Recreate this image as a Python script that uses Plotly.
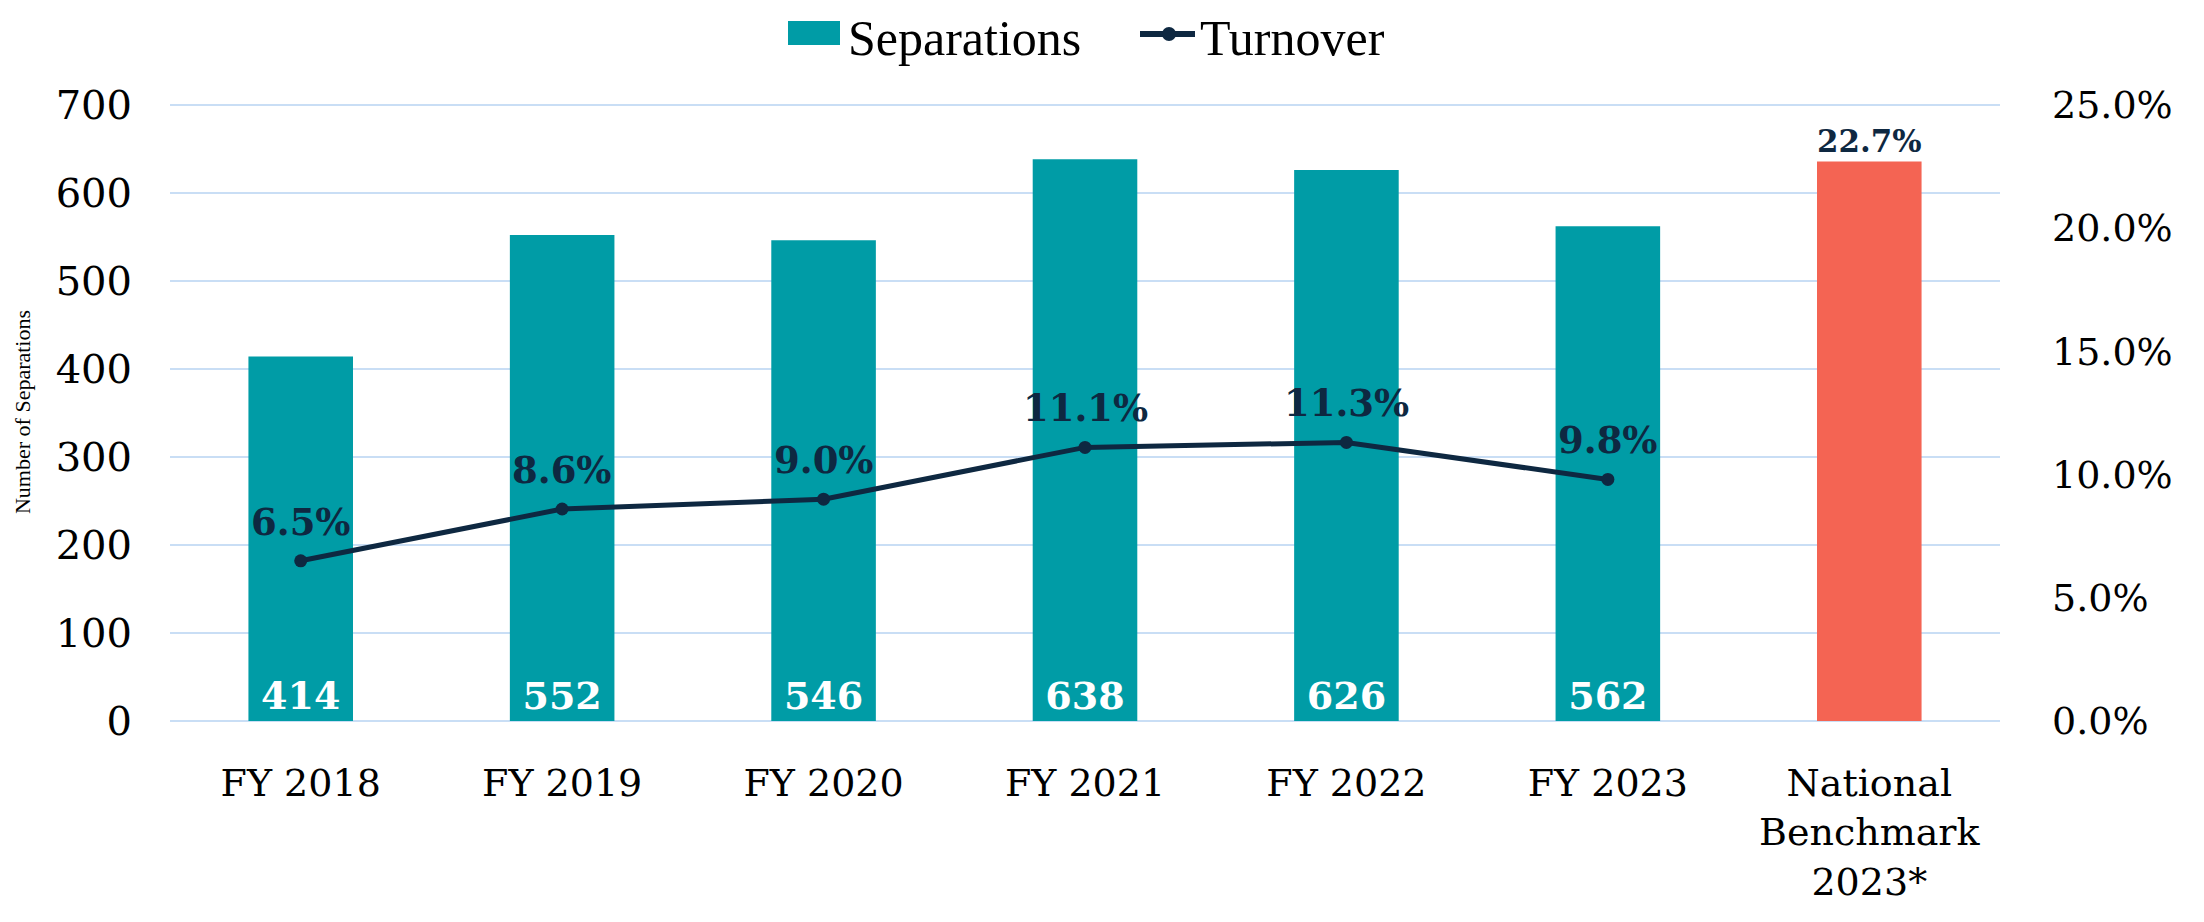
import plotly.graph_objects as go

categories = ["FY 2018", "FY 2019", "FY 2020", "FY 2021", "FY 2022", "FY 2023", "National<br>Benchmark<br>2023*"]
fy_categories = categories[:6]
separations = [414, 552, 546, 638, 626, 562]
turnover = [6.5, 8.6, 9.0, 11.1, 11.3, 9.8]
benchmark_category = [categories[6]]
benchmark_turnover = [22.7]
left_ticks = [0, 100, 200, 300, 400, 500, 600, 700]
right_ticks = [0, 5, 10, 15, 20, 25]
legend_names = ["Separations", "Turnover"]

TEAL = "#009CA6"
CORAL = "#F46453"
NAVY = "#0E2841"
GRID = "#C9DEF5"
FONT = "DejaVu Serif"
LEGEND_FONT = "Liberation Serif"

W, H = 2204, 922
ML, MR, MT, MB = 162, 212, 95, 209   # page body has an 8px margin
PW, PH = W - ML - MR, H - MT - MB
LEFT_MAX = 702
RIGHT_MAX = 25 * LEFT_MAX / 700


def px(xpage):
    return (xpage - 8 - ML) / PW


def py(ypage):
    return (H - MB - (ypage - 8)) / PH


fig = go.Figure()
fig.add_trace(go.Bar(
    x=fy_categories, y=separations, name=legend_names[0], showlegend=False,
    marker=dict(color=TEAL, line=dict(width=0)),
    text=[str(v) for v in separations], textposition="inside", insidetextanchor="start",
    textfont=dict(family=FONT, size=38, color="white", weight="bold"),
    textangle=0, cliponaxis=False,
))
fig.add_trace(go.Bar(
    x=benchmark_category, y=benchmark_turnover, yaxis="y2", showlegend=False,
    marker=dict(color=CORAL, line=dict(width=0)),
    text=[f"{v:.1f}%" for v in benchmark_turnover], textposition="outside",
    textfont=dict(family=FONT, size=36, color=NAVY, weight="bold"),
    textangle=0, cliponaxis=False,
))
fig.add_trace(go.Scatter(
    x=fy_categories, y=turnover, yaxis="y2", name=legend_names[1], showlegend=False,
    mode="lines+markers",
    line=dict(color=NAVY, width=5), marker=dict(color=NAVY, size=13),
    cliponaxis=False,
))

annotations = []
for c, v in zip(fy_categories, turnover):
    annotations.append(dict(
        x=c, y=v, xref="x", yref="y2", text=f"<b>{v:.1f}%</b>", showarrow=False,
        xanchor="center", yanchor="bottom", yshift=15,
        font=dict(family=FONT, size=37, color=NAVY),
    ))

# legend (drawn to match the reference's large swatches)
shapes = [
    dict(type="rect", xref="paper", yref="paper", x0=px(788), x1=px(840), y0=py(45), y1=py(21),
         fillcolor=TEAL, line=dict(width=0)),
    dict(type="line", xref="paper", yref="paper", x0=px(1140), x1=px(1195), y0=py(34), y1=py(34),
         line=dict(color=NAVY, width=6)),
    dict(type="circle", xref="paper", yref="paper", x0=px(1162), x1=px(1176), y0=py(41), y1=py(27),
         fillcolor=NAVY, line=dict(width=0)),
]
annotations.append(dict(x=px(846), y=py(8), xref="paper", yref="paper", text=legend_names[0],
                        showarrow=False, xanchor="left", yanchor="top",
                        font=dict(family=LEGEND_FONT, size=50, color="black")))
annotations.append(dict(x=px(1198), y=py(8), xref="paper", yref="paper", text=legend_names[1],
                        showarrow=False, xanchor="left", yanchor="top",
                        font=dict(family=LEGEND_FONT, size=50, color="black")))

fig.update_layout(
    width=W, height=H,
    margin=dict(l=ML, r=MR, t=MT, b=MB, autoexpand=False),
    paper_bgcolor="white", plot_bgcolor="white",
    barmode="overlay", bargap=0.6,
    font=dict(family=FONT, color="black"),
    showlegend=False,
    shapes=shapes, annotations=annotations,
    xaxis=dict(categoryorder="array", categoryarray=categories, showgrid=False, showline=False,
               ticks="", tickfont=dict(family=FONT, size=38, color="black"), ticklabelstandoff=36),
    yaxis=dict(range=[0, LEFT_MAX], tickvals=left_ticks, showgrid=True, gridcolor=GRID, gridwidth=2,
               zeroline=True, zerolinecolor=GRID, zerolinewidth=2, showline=False, ticks="",
               tickfont=dict(family=FONT, size=40, color="black"), ticklabelstandoff=37,
               title=dict(text="Number of Separations",
                          font=dict(family=LEGEND_FONT, size=22, color="black"), standoff=18)),
    yaxis2=dict(range=[0, RIGHT_MAX], tickvals=right_ticks, ticktext=[f"{v:.1f}%" for v in right_ticks],
                overlaying="y", side="right", showgrid=False, zeroline=False, showline=False, ticks="",
                tickfont=dict(family=FONT, size=38, color="black"), ticklabelstandoff=51),
)

fig.write_html("out.html")
